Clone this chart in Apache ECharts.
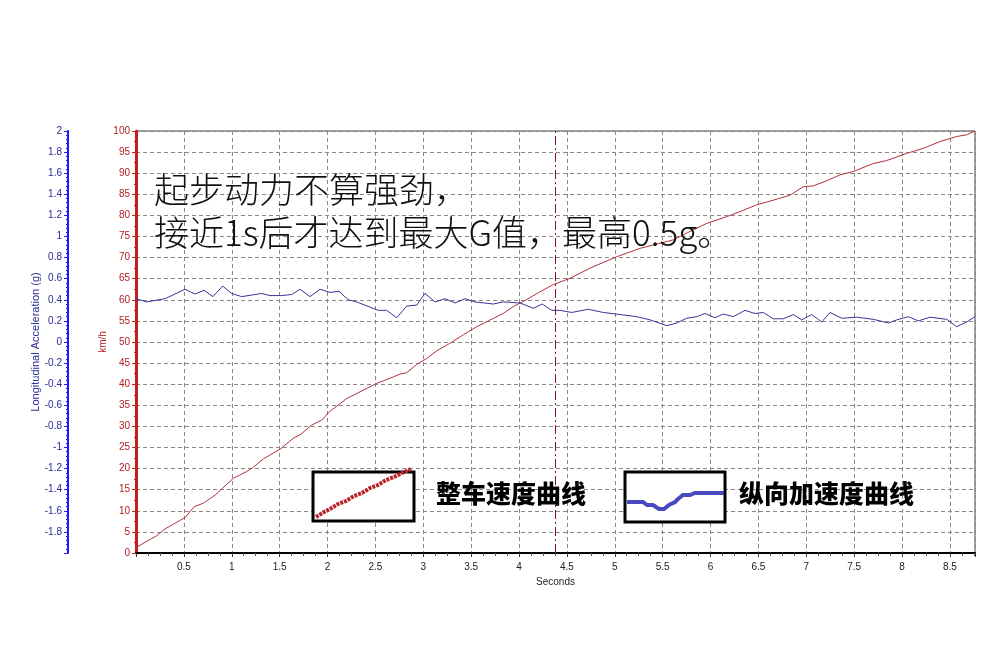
<!DOCTYPE html>
<html><head><meta charset="utf-8">
<script src="https://cdn.jsdelivr.net/npm/echarts@6/dist/echarts.min.js"></script>
<style>html,body{margin:0;padding:0;background:#fff}#c{width:1006px;height:671px}</style>
</head><body><div id="c"></div>
<script>
const speedTime = [0,0.216,0.303,0.512,0.609,0.703,0.825,1.016,1.156,1.225,1.330,1.504,1.643,1.713,1.835,1.939,2.026,2.201,2.514,2.653,2.757,2.827,2.932,3.036,3.140,3.279,3.418,3.558,3.732,3.836,3.940,4.045,4.219,4.358,4.533,4.741,5.020,5.264,5.473,5.611,5.751,5.960,6.169,6.308,6.482,6.656,6.830,6.969,7.073,7.213,7.352,7.491,7.700,7.840,8.049,8.222,8.397,8.571,8.676,8.762];
const speedKmh = [1.3,4.1,5.7,8.4,11.0,11.8,13.7,17.7,19.3,20.3,22.3,24.6,27.2,28.0,30.3,31.5,33.6,36.6,40.2,41.4,42.4,42.7,44.7,46.1,47.9,49.7,51.7,53.6,55.6,56.8,58.4,59.6,61.9,63.6,65.1,67.5,70.2,72.2,73.4,74.2,75.8,78.1,79.7,80.9,82.5,83.6,84.8,86.8,87.0,88.2,89.6,90.4,92.3,93.0,94.7,95.9,97.5,98.7,99.1,100];
const accTime = [0,0.112,0.303,0.512,0.616,0.710,0.804,0.905,0.999,1.104,1.313,1.399,1.522,1.626,1.713,1.817,1.922,2.026,2.120,2.217,2.305,2.531,2.618,2.723,2.827,2.932,3.018,3.123,3.227,3.332,3.436,3.540,3.732,3.836,4.010,4.149,4.243,4.342,4.428,4.550,4.724,4.880,5.055,5.229,5.368,5.543,5.647,5.751,5.856,5.943,6.047,6.134,6.238,6.360,6.465,6.551,6.656,6.760,6.865,6.953,7.057,7.161,7.248,7.370,7.527,7.700,7.857,7.945,8.066,8.170,8.292,8.467,8.571,8.676,8.762];
const accG = [0.41,0.38,0.41,0.50,0.455,0.49,0.43,0.53,0.46,0.43,0.46,0.44,0.44,0.45,0.50,0.43,0.50,0.47,0.48,0.40,0.38,0.30,0.30,0.23,0.34,0.35,0.46,0.38,0.41,0.37,0.41,0.38,0.36,0.38,0.37,0.32,0.36,0.30,0.30,0.28,0.31,0.28,0.26,0.24,0.21,0.155,0.18,0.225,0.24,0.27,0.23,0.265,0.24,0.30,0.27,0.28,0.22,0.22,0.26,0.21,0.26,0.19,0.28,0.225,0.235,0.215,0.18,0.21,0.24,0.20,0.235,0.215,0.145,0.19,0.24];
const cursorTime = 4.38;
const titleLines = ['起步动力不算强劲，', '接近1s后才达到最大G值，最高0.5g。'];
const legendNames = ['整车速度曲线', '纵向加速度曲线'];

const chart = echarts.init(document.getElementById('c'), null, {renderer:'canvas'});
const zip = (a,b)=>a.map((v,i)=>[v,b[i]]);
chart.setOption({
  animation:false,
  backgroundColor:'#fff',
  grid:{left:136,right:31,top:131,bottom:118,show:true,borderColor:'#444',borderWidth:1,backgroundColor:'transparent'},
  xAxis:{type:'value',min:0,max:8.762,interval:0.5,
    name:'Seconds',nameLocation:'middle',nameGap:22,
    nameTextStyle:{color:'#222',fontSize:10,fontFamily:'Liberation Sans'},
    axisLine:{show:true,lineStyle:{color:'#000',width:2}},
    axisTick:{show:true,length:4,lineStyle:{color:'#333'}},
    minorTick:{show:true,splitNumber:4,length:3,lineStyle:{color:'#555'}},
    axisLabel:{color:'#222',fontSize:10,fontFamily:'Liberation Sans',margin:9,
      formatter:v=>(v===0||v>8.6)?'':String(v)},
    splitLine:{show:true,lineStyle:{color:'#888',type:[4,3],width:1}}
  },
  yAxis:[
    {type:'value',min:0,max:100,interval:5,position:'left',
      name:'km/h',nameLocation:'middle',nameGap:28,nameRotate:90,nameMoveOverlap:false,
      nameTextStyle:{color:'#b02020',fontSize:10,fontFamily:'Liberation Sans'},
      axisLine:{show:true,lineStyle:{color:'#c41e1e',width:3}},
      axisTick:{show:true,length:4,lineStyle:{color:'#c41e1e'}},
      minorTick:{show:true,splitNumber:2,length:2,lineStyle:{color:'#c41e1e'}},
      axisLabel:{color:'#b02020',fontSize:10,fontFamily:'Liberation Sans',margin:6},
      splitLine:{show:true,lineStyle:{color:'#888',type:[4,3],width:1}}
    },
    {type:'value',min:-2,max:2,interval:0.2,position:'left',offset:68,
      name:'Longitudinal Acceleration (g)',nameLocation:'middle',nameGap:27,nameRotate:90,nameMoveOverlap:false,
      nameTextStyle:{color:'#2a2a9a',fontSize:11,fontFamily:'Liberation Sans'},
      axisLine:{show:true,lineStyle:{color:'#1a1aff',width:2}},
      axisTick:{show:true,length:4,lineStyle:{color:'#1a1aff'}},
      minorTick:{show:true,splitNumber:5,length:2,lineStyle:{color:'#1a1aff'}},
      axisLabel:{color:'#2a2a9a',fontSize:10,fontFamily:'Liberation Sans',margin:6,
        formatter:v=>(v<=-1.99)?'':String(Math.round(v*10)/10)},
      splitLine:{show:false}
    }
  ],
  series:[
    {type:'line',name:legendNames[0],yAxisIndex:0,data:zip(speedTime,speedKmh),showSymbol:false,
      lineStyle:{color:'#b5313a',width:1},z:3,
      markLine:{silent:true,symbol:'none',label:{show:false},
        lineStyle:{color:'#7a1a1a',type:[9,3,2,3],width:1},data:[{xAxis:cursorTime}]}
    },
    {type:'line',name:legendNames[1],yAxisIndex:1,data:zip(accTime,accG),showSymbol:false,
      lineStyle:{color:'#35359a',width:1},z:3}
  ],
  graphic:[
    {type:'text',left:154,top:168,z:10,style:{text:titleLines.join('\n'),fontSize:35,lineHeight:43,
      fill:'#111',fontFamily:'"Noto Sans CJK SC"',fontWeight:300}},
    {type:'rect',shape:{x:313,y:472,width:101,height:49},z:10,style:{fill:'#fff',stroke:'#000',lineWidth:3}},
    {type:'polyline',z:11,shape:{points:[[316,517],[324,512],[330,509],[338,504],[346,501],[354,496],[362,493],[370,488],[378,485],[386,480],[394,477],[402,473],[411,469]]},
      style:{stroke:'#b8232e',lineWidth:4,lineDash:[3,1]}},
    {type:'text',left:436,top:481,z:10,style:{text:legendNames[0],fontSize:25,fontWeight:900,fill:'#000',fontFamily:'"Noto Sans CJK SC"'}},
    {type:'rect',shape:{x:625,y:472,width:100,height:50},z:10,style:{fill:'#fff',stroke:'#000',lineWidth:3}},
    {type:'polyline',z:11,shape:{points:[[627,502],[643,502],[647,505],[653,505],[659,509],[664,509],[669,505],[675,502],[678,499],[683,495],[690,495],[695,493],[701,493],[704,493],[724,493]]},
      style:{stroke:'#2a2ab5',lineWidth:4,opacity:0.85}},
    {type:'text',left:739,top:481,z:10,style:{text:legendNames[1],fontSize:25,fontWeight:900,fill:'#000',fontFamily:'"Noto Sans CJK SC"'}}
  ]
});
</script></body></html>
